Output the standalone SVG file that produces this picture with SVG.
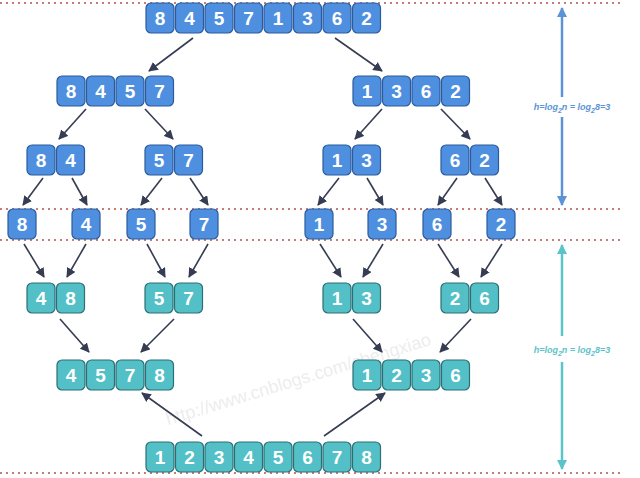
<svg xmlns="http://www.w3.org/2000/svg" width="640" height="478" viewBox="0 0 640 478">
<style>
.b{fill:#4f8fe0;stroke:#2b5b9c;stroke-width:1.2}
.t{fill:#52c0c6;stroke:#2c6f75;stroke-width:1.2}
.n{font-family:"Liberation Sans",Arial,sans-serif;font-weight:bold;font-size:19px;fill:#fff;text-anchor:middle}
.c line{stroke:#363c52;stroke-width:1.6;marker-end:url(#ah)}
.d{stroke:#b5524a;stroke-width:1.3;stroke-dasharray:2 4}
.lb{font-family:"Liberation Sans",Arial,sans-serif;font-style:italic;font-weight:bold;font-size:9px;text-anchor:middle}
</style>
<defs>
<marker id="ah" viewBox="0 0 10 10" refX="9" refY="5" markerWidth="6" markerHeight="6" orient="auto"><path d="M0,0L10,5L0,10z" fill="#363c52"/></marker>
<marker id="ab" viewBox="0 0 10 10" refX="9" refY="5" markerWidth="4" markerHeight="4" orient="auto-start-reverse"><path d="M0,0L10,5L0,10z" fill="#5b93d6"/></marker>
<marker id="at" viewBox="0 0 10 10" refX="9" refY="5" markerWidth="4" markerHeight="4" orient="auto-start-reverse"><path d="M0,0L10,5L0,10z" fill="#5cc3c9"/></marker>
</defs>
<g id="guides">
<line class="d" x1="0" y1="3" x2="620" y2="3"/>
<line class="d" x1="0" y1="209" x2="620" y2="209"/>
<line class="d" x1="0" y1="240" x2="620" y2="240"/>
<line class="d" x1="0" y1="473" x2="620" y2="473"/>
<line x1="562" y1="8" x2="562" y2="97" stroke="#5b93d6" stroke-width="2.5" marker-start="url(#ab)"/>
<line x1="562" y1="117" x2="562" y2="205" stroke="#5b93d6" stroke-width="2.5" marker-end="url(#ab)"/>
<text class="lb" x="572" y="110" fill="#5b93d6">h=log<tspan dy="3" font-size="7">2</tspan><tspan dy="-3">n = log</tspan><tspan dy="3" font-size="7">2</tspan><tspan dy="-3">8=3</tspan></text>
<line x1="562" y1="245" x2="562" y2="336" stroke="#5cc3c9" stroke-width="2.5" marker-start="url(#at)"/>
<line x1="562" y1="362" x2="562" y2="469" stroke="#5cc3c9" stroke-width="2.5" marker-end="url(#at)"/>
<text class="lb" x="572" y="353" fill="#5cc3c9">h=log<tspan dy="3" font-size="7">2</tspan><tspan dy="-3">n = log</tspan><tspan dy="3" font-size="7">2</tspan><tspan dy="-3">8=3</tspan></text>
<text x="300" y="385" transform="rotate(-17 300 385)" font-family="Liberation Sans,Arial,sans-serif" font-size="18" fill="#000" opacity="0.07" text-anchor="middle">http://www.cnblogs.com/chengxiao</text>
</g>
<g id="connectors" class="c">
<line x1="193" y1="38" x2="149" y2="71"/>
<line x1="335" y1="38" x2="382" y2="71"/>
<line x1="86" y1="109" x2="59" y2="139"/>
<line x1="145" y1="109" x2="173" y2="139"/>
<line x1="382" y1="109" x2="355" y2="139"/>
<line x1="441" y1="109" x2="470" y2="139"/>
<line x1="43" y1="178" x2="23" y2="205"/>
<line x1="72" y1="178" x2="87" y2="205"/>
<line x1="162" y1="178" x2="141" y2="205"/>
<line x1="190" y1="178" x2="208" y2="205"/>
<line x1="339" y1="178" x2="318" y2="205"/>
<line x1="367" y1="178" x2="383" y2="205"/>
<line x1="457" y1="178" x2="438" y2="205"/>
<line x1="485" y1="178" x2="502" y2="205"/>
<line x1="24" y1="244" x2="44" y2="277"/>
<line x1="86" y1="244" x2="67" y2="277"/>
<line x1="147" y1="244" x2="165" y2="277"/>
<line x1="208" y1="244" x2="189" y2="277"/>
<line x1="320" y1="244" x2="341" y2="277"/>
<line x1="383" y1="244" x2="363" y2="277"/>
<line x1="438" y1="244" x2="459" y2="277"/>
<line x1="502" y1="244" x2="481" y2="277"/>
<line x1="60" y1="319" x2="89" y2="352"/>
<line x1="174" y1="319" x2="141" y2="352"/>
<line x1="353" y1="319" x2="382" y2="352"/>
<line x1="471" y1="319" x2="440" y2="352"/>
<line x1="202" y1="436" x2="142" y2="393"/>
<line x1="324" y1="436" x2="385" y2="393"/>
</g>
<g id="r1"><g class="b"><rect x="146" y="3" width="28" height="30" rx="5"/><rect x="175.5" y="3" width="28" height="30" rx="5"/><rect x="205" y="3" width="28" height="30" rx="5"/><rect x="234.5" y="3" width="28" height="30" rx="5"/><rect x="264" y="3" width="28" height="30" rx="5"/><rect x="293.5" y="3" width="28" height="30" rx="5"/><rect x="323" y="3" width="28" height="30" rx="5"/><rect x="352.5" y="3" width="28" height="30" rx="5"/></g>
<g class="n"><text x="160" y="25">8</text><text x="189.5" y="25">4</text><text x="219" y="25">5</text><text x="248.5" y="25">7</text><text x="278" y="25">1</text><text x="307.5" y="25">3</text><text x="337" y="25">6</text><text x="366.5" y="25">2</text></g></g>
<g id="r2l"><g class="b"><rect x="57" y="76" width="28" height="30" rx="5"/><rect x="86.5" y="76" width="28" height="30" rx="5"/><rect x="116" y="76" width="28" height="30" rx="5"/><rect x="145.5" y="76" width="28" height="30" rx="5"/></g>
<g class="n"><text x="71" y="98">8</text><text x="100.5" y="98">4</text><text x="130" y="98">5</text><text x="159.5" y="98">7</text></g></g>
<g id="r2r"><g class="b"><rect x="353" y="76" width="28" height="30" rx="5"/><rect x="382.5" y="76" width="28" height="30" rx="5"/><rect x="412" y="76" width="28" height="30" rx="5"/><rect x="441.5" y="76" width="28" height="30" rx="5"/></g>
<g class="n"><text x="367" y="98">1</text><text x="396.5" y="98">3</text><text x="426" y="98">6</text><text x="455.5" y="98">2</text></g></g>
<g id="r3"><g class="b"><rect x="27" y="145" width="28" height="30" rx="5"/><rect x="56.5" y="145" width="28" height="30" rx="5"/><rect x="145" y="145" width="28" height="30" rx="5"/><rect x="174.5" y="145" width="28" height="30" rx="5"/><rect x="323" y="145" width="28" height="30" rx="5"/><rect x="352.5" y="145" width="28" height="30" rx="5"/><rect x="441" y="145" width="28" height="30" rx="5"/><rect x="470.5" y="145" width="28" height="30" rx="5"/></g>
<g class="n"><text x="41" y="167">8</text><text x="70.5" y="167">4</text><text x="159" y="167">5</text><text x="188.5" y="167">7</text><text x="337" y="167">1</text><text x="366.5" y="167">3</text><text x="455" y="167">6</text><text x="484.5" y="167">2</text></g></g>
<g id="r4"><g class="b"><rect x="8" y="209" width="28" height="30" rx="5"/><rect x="72" y="209" width="28" height="30" rx="5"/><rect x="127" y="209" width="28" height="30" rx="5"/><rect x="190" y="209" width="28" height="30" rx="5"/><rect x="305" y="209" width="28" height="30" rx="5"/><rect x="368" y="209" width="28" height="30" rx="5"/><rect x="423" y="209" width="28" height="30" rx="5"/><rect x="487" y="209" width="28" height="30" rx="5"/></g>
<g class="n"><text x="22" y="231">8</text><text x="86" y="231">4</text><text x="141" y="231">5</text><text x="204" y="231">7</text><text x="319" y="231">1</text><text x="382" y="231">3</text><text x="437" y="231">6</text><text x="501" y="231">2</text></g></g>
<g id="r5"><g class="t"><rect x="27" y="283" width="28" height="30" rx="5"/><rect x="56.5" y="283" width="28" height="30" rx="5"/><rect x="145" y="283" width="28" height="30" rx="5"/><rect x="174.5" y="283" width="28" height="30" rx="5"/><rect x="323" y="283" width="28" height="30" rx="5"/><rect x="352.5" y="283" width="28" height="30" rx="5"/><rect x="441" y="283" width="28" height="30" rx="5"/><rect x="470.5" y="283" width="28" height="30" rx="5"/></g>
<g class="n"><text x="41" y="305">4</text><text x="70.5" y="305">8</text><text x="159" y="305">5</text><text x="188.5" y="305">7</text><text x="337" y="305">1</text><text x="366.5" y="305">3</text><text x="455" y="305">2</text><text x="484.5" y="305">6</text></g></g>
<g id="r6l"><g class="t"><rect x="57" y="360" width="28" height="30" rx="5"/><rect x="86.5" y="360" width="28" height="30" rx="5"/><rect x="116" y="360" width="28" height="30" rx="5"/><rect x="145.5" y="360" width="28" height="30" rx="5"/></g>
<g class="n"><text x="71" y="382">4</text><text x="100.5" y="382">5</text><text x="130" y="382">7</text><text x="159.5" y="382">8</text></g></g>
<g id="r6r"><g class="t"><rect x="353" y="360" width="28" height="30" rx="5"/><rect x="382.5" y="360" width="28" height="30" rx="5"/><rect x="412" y="360" width="28" height="30" rx="5"/><rect x="441.5" y="360" width="28" height="30" rx="5"/></g>
<g class="n"><text x="367" y="382">1</text><text x="396.5" y="382">2</text><text x="426" y="382">3</text><text x="455.5" y="382">6</text></g></g>
<g id="r7"><g class="t"><rect x="146" y="442" width="28" height="30" rx="5"/><rect x="175.5" y="442" width="28" height="30" rx="5"/><rect x="205" y="442" width="28" height="30" rx="5"/><rect x="234.5" y="442" width="28" height="30" rx="5"/><rect x="264" y="442" width="28" height="30" rx="5"/><rect x="293.5" y="442" width="28" height="30" rx="5"/><rect x="323" y="442" width="28" height="30" rx="5"/><rect x="352.5" y="442" width="28" height="30" rx="5"/></g>
<g class="n"><text x="160" y="464">1</text><text x="189.5" y="464">2</text><text x="219" y="464">3</text><text x="248.5" y="464">4</text><text x="278" y="464">5</text><text x="307.5" y="464">6</text><text x="337" y="464">7</text><text x="366.5" y="464">8</text></g></g>
</svg>
